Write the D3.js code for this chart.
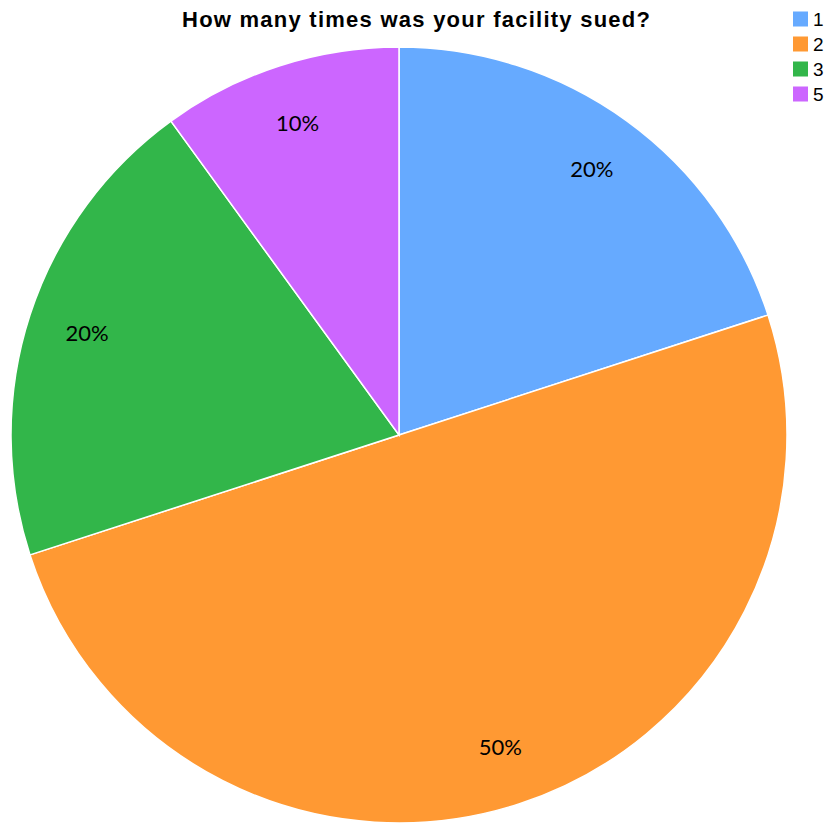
<!DOCTYPE html>
<html><head><meta charset="utf-8">
<script src="https://cdn.jsdelivr.net/npm/d3@7"></script>
<style>body{margin:0;background:#fff}svg{display:block}</style>
</head><body>
<svg id="chart" width="828" height="823"></svg>
<script>
const categories = ["1", "2", "3", "5"];
const values = [20, 50, 20, 10];
const colors = ["#66AAFF", "#FF9933", "#32B64A", "#CC66FF"];
const title = "How many times was your facility sued?";

const svg = d3.select("#chart");
const cx = 399, cy = 435, R = 388;

svg.append("text").attr("x", 416).attr("y", 27).attr("text-anchor", "middle")
  .attr("font-family", "Liberation Sans, Arial, sans-serif").attr("font-weight", "bold")
  .attr("font-size", 22).attr("textLength", 468).attr("lengthAdjust", "spacing")
  .attr("fill", "#000").text(title);

const color = d3.scaleOrdinal().domain(categories).range(colors);
const pie = d3.pie().sort(null).value(d => d.v);
const data = categories.map((c, i) => ({c, v: values[i]}));
const arcs = pie(data);
const arc = d3.arc().innerRadius(0).outerRadius(R);
const labelArc = d3.arc().innerRadius(328).outerRadius(328);
const total = d3.sum(values);

const g = svg.append("g").attr("transform", `translate(${cx},${cy})`);
g.selectAll("path").data(arcs).enter().append("path")
  .attr("d", arc).attr("fill", d => color(d.data.c))
  .attr("stroke", "#fff").attr("stroke-width", 1.5);

g.selectAll("text.lbl").data(arcs).enter().append("text").attr("class", "lbl")
  .attr("transform", d => { const [x, y] = labelArc.centroid(d); return `translate(${x},${y})`; })
  .attr("text-anchor", "middle").attr("dy", "0.35em")
  .attr("font-family", "Lato, sans-serif").attr("font-size", 22).attr("fill", "#000")
  .text(d => Math.round(d.data.v / total * 100) + "%");

const leg = svg.append("g");
const ly = d3.scalePoint().domain(categories).range([19, 94]);
categories.forEach(c => {
  leg.append("rect").attr("x", 793).attr("y", ly(c) - 7.5).attr("width", 15).attr("height", 15).attr("fill", color(c));
  leg.append("text").attr("x", 813).attr("y", ly(c)).attr("dy", "0.36em")
    .attr("font-family", "Liberation Sans, Arial, sans-serif").attr("font-size", 19).attr("fill", "#000").text(c);
});
</script>
</body></html>
